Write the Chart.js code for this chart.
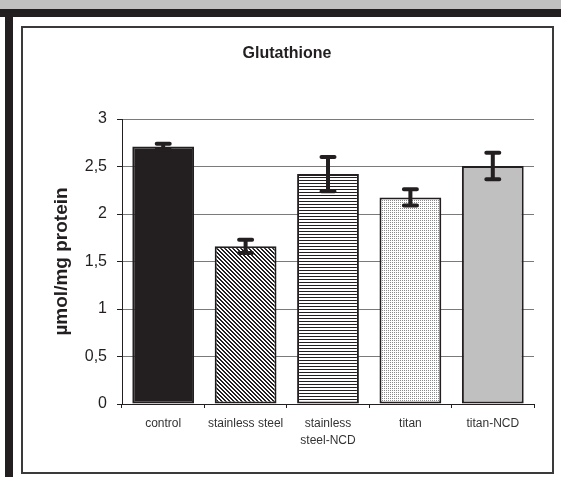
<!DOCTYPE html>
<html>
<head>
<meta charset="utf-8">
<script src="https://cdn.jsdelivr.net/npm/chart.js@4.4.0/dist/chart.umd.min.js"></script>
<style>
  html, body { margin: 0; padding: 0; background: #ffffff; }
  #wrap { position: relative; width: 561px; height: 477px; overflow: hidden; background: #ffffff; }
  #band-grey { position: absolute; left: 0; top: 0; width: 561px; height: 9px; background: #c0c0c0; }
  #band-black { position: absolute; left: 0; top: 9px; width: 561px; height: 8px; background: #231f20; }
  #col-black { position: absolute; left: 5px; top: 9px; width: 8px; height: 468px; background: #231f20; }
  #frame { position: absolute; left: 21px; top: 26px; width: 529px; height: 444px; border: 2px solid #3a3a3a; }
  canvas { position: absolute; left: 0; top: 0; }
</style>
</head>
<body>
<div id="wrap">
  <div id="band-grey"></div>
  <div id="band-black"></div>
  <div id="col-black"></div>
  <div id="frame"></div>
  <canvas id="c" width="561" height="477"></canvas>
</div>
<script>
// ---- data ----
const categories = ['control', 'stainless steel', ['stainless', 'steel-NCD'], 'titan', 'titan-NCD'];
const values = [2.71, 1.66, 2.42, 2.175, 2.505];
const errors = [0.03, 0.07, 0.18, 0.085, 0.14];
const yTickLabels = ['0', '0,5', '1', '1,5', '2', '2,5', '3'];
const titleText = 'Glutathione';
const yTitleText = 'µmol/mg protein';

const FONT = "'Liberation Sans', Arial, Helvetica, sans-serif";
const INK = '#231f20';

const canvas = document.getElementById('c');
const ctx = canvas.getContext('2d');

function makePattern(w, h, bg, fg, test) {
  const t = document.createElement('canvas');
  t.width = w; t.height = h;
  const tc = t.getContext('2d');
  tc.fillStyle = bg; tc.fillRect(0, 0, w, h);
  tc.fillStyle = fg;
  for (let y = 0; y < h; y++) for (let x = 0; x < w; x++) if (test(x, y)) tc.fillRect(x, y, 1, 1);
  return ctx.createPattern(t, 'repeat');
}

const fills = [
  INK,
  makePattern(4, 4, '#ffffff', INK, (x, y) => ((x - y + 8) % 4) < 2),
  makePattern(1, 3, '#ffffff', INK, (x, y) => y === 0),
  makePattern(2, 2, '#ffffff', '#8a8a8a', (x, y) => x === 0 && y === 0),
  '#c0c0c0'
];

const errorBars = {
  id: 'errorBars',
  afterDatasetsDraw(chart) {
    const meta = chart.getDatasetMeta(0);
    const ys = chart.scales.y;
    const c = chart.ctx;
    c.save();
    c.strokeStyle = INK;
    c.lineWidth = 4;
    c.lineCap = 'round';
    meta.data.forEach((bar, i) => {
      const x = bar.x;
      const yTop = ys.getPixelForValue(values[i] + errors[i]);
      const yBot = ys.getPixelForValue(values[i] - errors[i]);
      c.beginPath();
      c.moveTo(x, yTop); c.lineTo(x, yBot);
      c.moveTo(x - 6.5, yTop); c.lineTo(x + 6.5, yTop);
      c.moveTo(x - 6.5, yBot); c.lineTo(x + 6.5, yBot);
      c.stroke();
    });
    c.restore();
  }
};

new Chart(canvas, {
  type: 'bar',
  data: {
    labels: categories,
    datasets: [{
      data: values,
      backgroundColor: fills,
      borderColor: INK,
      borderWidth: 2,
      borderSkipped: false,
      categoryPercentage: 1.0,
      barPercentage: 0.75
    }]
  },
  options: {
    responsive: false,
    maintainAspectRatio: false,
    animation: false,
    layout: { padding: { left: 40, right: 27, top: 0, bottom: 0 } },
    plugins: {
      legend: { display: false },
      tooltip: { enabled: false },
      title: {
        display: true,
        text: titleText,
        color: INK,
        font: { family: FONT, size: 16, weight: 'bold' },
        padding: { top: 44, bottom: 55.8 }
      }
    },
    scales: {
      x: {
        grid: { display: true, drawOnChartArea: false, drawTicks: true, tickLength: 4, offset: true, color: INK, lineWidth: 1 },
        border: { display: true, color: INK, width: 1 },
        ticks: { color: '#333333', font: { family: FONT, size: 12, lineHeight: 1.35 }, padding: 8, maxRotation: 0, autoSkip: false },
        afterFit(s) { s.height = 73; }
      },
      y: {
        min: 0, max: 3,
        ticks: {
          stepSize: 0.5,
          color: INK,
          font: { family: FONT, size: 16 },
          padding: 10,
          callback: (v, i) => yTickLabels[i]
        },
        grid: { color: '#7a7a7a', lineWidth: 1, drawTicks: true, tickLength: 5, tickColor: INK },
        border: { display: true, color: INK, width: 1 },
        title: {
          display: true,
          text: yTitleText,
          color: INK,
          font: { family: FONT, size: 19, weight: 'bold' },
          padding: { top: 10.6, bottom: 0 }
        },
        afterFit(s) { s.width = 82; }
      }
    }
  },
  plugins: [errorBars]
});
</script>
</body>
</html>
